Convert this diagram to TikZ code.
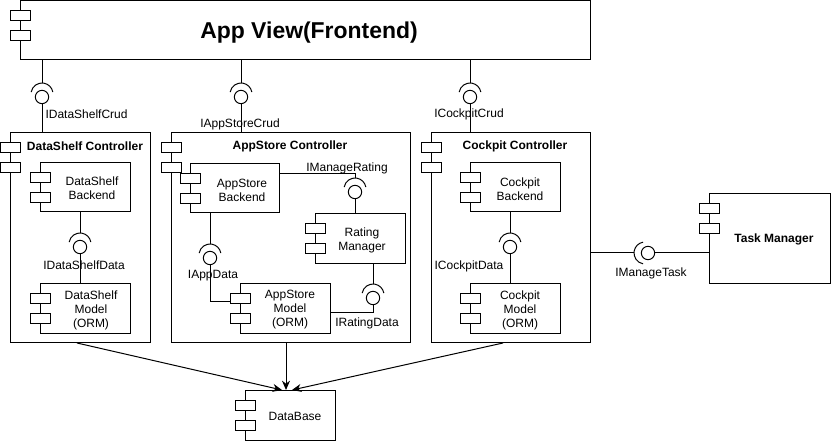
\documentclass[tikz,border=0pt]{standalone}
\usepackage{fontspec}
\setmainfont{Liberation Sans}
\usetikzlibrary{fit,arrows.meta}
\newcommand\compbox[5]{%
  \node[box, fit={(#2,#3)(#4,#5)}] (#1) {};
  \draw[icon] (#2-10,#3+10) rectangle (#2+10,#3+20);
  \draw[icon] (#2-10,#3+30) rectangle (#2+10,#3+40);
}
\newcommand\lolV[3]{%
  \node[ball] (#1) at (#2,#3) {};
  \draw (#2,#3-3) ++(190:11) arc[start angle=190,end angle=350,radius=11];
  \coordinate (#1s) at (#2,#3-14);
}
\newcommand\lolH[3]{%
  \node[ball] (#1) at (#2,#3) {};
  \draw (#2-3,#3) ++(100:11) arc[start angle=100,end angle=260,radius=11];
  \coordinate (#1s) at (#2-14,#3);
}
\begin{document}
\begin{tikzpicture}[x=0.75pt,y=-0.75pt, line width=0.75pt,
  box/.style={draw, inner sep=0pt, outer sep=0pt},
  icon/.style={draw, fill=white},
  ball/.style={circle, draw, fill=white, minimum size=10pt, inner sep=0pt, outer sep=0pt},
  txt/.style={font=\fontsize{9}{10.5}\selectfont, align=center, inner sep=0pt},
  ttl/.style={font=\fontsize{9}{10.5}\selectfont\bfseries, inner sep=0pt},
  lbl/.style={font=\fontsize{9}{10.5}\selectfont, inner sep=0pt},
  arr/.style={-{Stealth[length=7pt,width=6pt]}}]
\useasboundingbox (0,0) rectangle (831,441);

% components
\compbox{av}{20}{0.5}{590}{60}
\compbox{dsc}{10}{133}{150}{343}
\compbox{dsb}{40}{163}{130}{212}
\compbox{dsm}{40}{284}{130}{334}
\compbox{asc}{171}{133}{410}{343}
\compbox{asb}{190}{164}{279}{213}
\compbox{rm}{315}{214}{405}{264}
\compbox{asm}{240}{284}{330}{334}
\compbox{cpc}{431}{133}{590}{343}
\compbox{cpb}{470}{163}{560}{212}
\compbox{cpm}{470}{284}{560}{334}
\compbox{tm}{709}{194}{830}{284}
\compbox{db}{245}{390}{335}{440}

% titles and texts
\node[ttl, font=\fontsize{17.2}{20}\selectfont\bfseries] (avt) at (309,33) {App View(Frontend)};
\node[ttl] (dsct) at (85,146) {DataShelf Controller};
\node[ttl] (asct) at (290,146) {AppStore Controller};
\node[ttl] (cpct) at (515,146) {Cockpit Controller};
\node[ttl] (tmt) at (774,239) {Task Manager};
\node[txt] (dsbt) at (92,188) {DataShelf\\Backend};
\node[txt] (dsmt) at (91,310) {DataShelf\\Model\\(ORM)};
\node[txt] (asbt) at (242,190) {AppStore\\Backend};
\node[txt] (rmt) at (362,240) {Rating\\Manager};
\node[txt] (asmt) at (290,310) {AppStore\\Model\\(ORM)};
\node[txt] (cpbt) at (520,189) {Cockpit\\Backend};
\node[txt] (cpmt) at (520,310) {Cockpit\\Model\\(ORM)};
\node[txt] (dbt) at (295,416) {DataBase};

% lollipops
\lolV{dscrud}{42}{97}
\lolV{ascrud}{241}{97}
\lolV{cpcrud}{470}{97}
\lolV{dsdata}{80}{247}
\lolV{asdata}{210}{258}
\lolV{mrate}{355}{192}
\lolV{rdata}{373}{298}
\lolV{cpdata}{510}{247}
\lolH{mtask}{648}{253}

% interface labels
\node[lbl, anchor=west] (l1) at (45,114) {IDataShelfCrud};
\node[lbl] (l2) at (240,124) {IAppStoreCrud};
\node[lbl] (l3) at (469,114) {ICockpitCrud};
\node[lbl] (l4) at (84,265) {IDataShelfData};
\node[lbl] (l5) at (347,168) {IManageRating};
\node[lbl] (l6) at (213,276) {IAppData};
\node[lbl] (l7) at (367,323) {IRatingData};
\node[lbl] (l8) at (469,266) {ICockpitData};
\node[lbl] (l9) at (651,273) {IManageTask};

% connectors
\draw (av.south -| dscrud) -- (dscruds);
\draw (dscrud.south) -- (dsc.north -| dscrud);
\draw (av.south -| ascrud) -- (ascruds);
\draw (ascrud.south) -- (asc.north -| ascrud);
\draw (av.south -| cpcrud) -- (cpcruds);
\draw (cpcrud.south) -- (cpc.north -| cpcrud);

\draw (dsb.south -| dsdata) -- (dsdatas);
\draw (dsdata.south) -- (dsm.north -| dsdata);
\draw (cpb.south -| cpdata) -- (cpdatas);
\draw (cpdata.south) -- (cpm.north -| cpdata);

\coordinate (asmin) at (230,302);
\draw (asb.south -| asdata) -- (asdatas);
\draw (asdata.south) |- (asmin);

\coordinate (asbout) at (279,174);
\draw (asbout) -| (mrates);
\draw (mrate.south) -- (rm.north -| mrate);

\coordinate (asmout) at (330,313);
\draw (rm.south -| rdata) -- (rdatas);
\draw (rdata.south) |- (asmout);

\draw (cpc.east |- mtasks) -- (mtasks);
\draw (mtask.east) -- (tm.west |- mtask);

% arrows to database
\coordinate (a1s) at (77,343);
\coordinate (a1e) at (282,390);
\coordinate (a2s) at (286,343);
\coordinate (a2e) at (286,390);
\coordinate (a3s) at (503,343);
\coordinate (a3e) at (292,390);
\draw[arr] (a1s) -- (a1e);
\draw[arr] (a2s) -- (a2e);
\draw[arr] (a3s) -- (a3e);
\end{tikzpicture}
\end{document}
